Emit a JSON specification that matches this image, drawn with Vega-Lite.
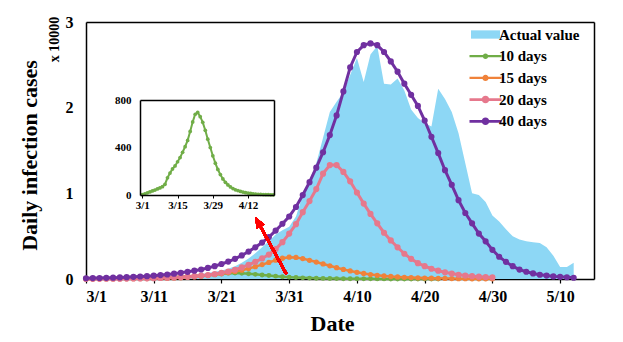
{
  "$schema": "https://vega.github.io/schema/vega-lite/v6.json",
  "width": 508,
  "height": 257,
  "autosize": {"type": "none"},
  "padding": {"left": 86, "top": 22, "right": 29, "bottom": 63},
  "background": "white",
  "config": {
    "view": {"stroke": null},
    "font": "Liberation Serif",
    "axis": {"labelFont": "Liberation Serif", "titleFont": "Liberation Serif", "labelFontWeight": "bold", "titleFontWeight": "bold", "labelColor": "black", "titleColor": "black", "grid": false, "domainColor": "black", "tickColor": "black", "domainWidth": 1.5},
    "legend": {"labelFont": "Liberation Serif", "labelFontWeight": "bold", "labelColor": "black"}
  },
  "data": {"values": [
    {"date": "2020-03-01", "actual": 20, "d10": 3, "d15": 10, "d20": 15, "d40": 90},
    {"date": "2020-03-02", "actual": 25, "d10": 10, "d15": 12, "d20": 18, "d40": 105},
    {"date": "2020-03-03", "actual": 30, "d10": 18, "d15": 15, "d20": 22, "d40": 120},
    {"date": "2020-03-04", "actual": 40, "d10": 26, "d15": 18, "d20": 27, "d40": 140},
    {"date": "2020-03-05", "actual": 50, "d10": 34, "d15": 22, "d20": 32, "d40": 160},
    {"date": "2020-03-06", "actual": 60, "d10": 42, "d15": 27, "d20": 38, "d40": 185},
    {"date": "2020-03-07", "actual": 75, "d10": 51, "d15": 33, "d20": 46, "d40": 215},
    {"date": "2020-03-08", "actual": 90, "d10": 60, "d15": 40, "d20": 55, "d40": 250},
    {"date": "2020-03-09", "actual": 110, "d10": 70, "d15": 48, "d20": 67, "d40": 290},
    {"date": "2020-03-10", "actual": 130, "d10": 90, "d15": 58, "d20": 82, "d40": 335},
    {"date": "2020-03-11", "actual": 160, "d10": 145, "d15": 70, "d20": 100, "d40": 390},
    {"date": "2020-03-12", "actual": 190, "d10": 185, "d15": 84, "d20": 125, "d40": 455},
    {"date": "2020-03-13", "actual": 230, "d10": 220, "d15": 100, "d20": 150, "d40": 530},
    {"date": "2020-03-14", "actual": 280, "d10": 245, "d15": 122, "d20": 185, "d40": 620},
    {"date": "2020-03-15", "actual": 340, "d10": 280, "d15": 150, "d20": 225, "d40": 720},
    {"date": "2020-03-16", "actual": 400, "d10": 315, "d15": 200, "d20": 275, "d40": 840},
    {"date": "2020-03-17", "actual": 480, "d10": 360, "d15": 260, "d20": 330, "d40": 970},
    {"date": "2020-03-18", "actual": 580, "d10": 407, "d15": 330, "d20": 395, "d40": 1110},
    {"date": "2020-03-19", "actual": 700, "d10": 460, "d15": 410, "d20": 470, "d40": 1290},
    {"date": "2020-03-20", "actual": 850, "d10": 535, "d15": 500, "d20": 580, "d40": 1500},
    {"date": "2020-03-21", "actual": 1000, "d10": 615, "d15": 610, "d20": 720, "d40": 1750},
    {"date": "2020-03-22", "actual": 1200, "d10": 680, "d15": 740, "d20": 880, "d40": 2030},
    {"date": "2020-03-23", "actual": 1500, "d10": 695, "d15": 880, "d20": 1080, "d40": 2350},
    {"date": "2020-03-24", "actual": 1900, "d10": 660, "d15": 1030, "d20": 1350, "d40": 2750},
    {"date": "2020-03-25", "actual": 2400, "d10": 612, "d15": 1220, "d20": 1650, "d40": 3200},
    {"date": "2020-03-26", "actual": 3000, "d10": 545, "d15": 1440, "d20": 2000, "d40": 3700},
    {"date": "2020-03-27", "actual": 3700, "d10": 470, "d15": 1680, "d20": 2400, "d40": 4250},
    {"date": "2020-03-28", "actual": 4400, "d10": 400, "d15": 1930, "d20": 2850, "d40": 4900},
    {"date": "2020-03-29", "actual": 5200, "d10": 330, "d15": 2200, "d20": 3500, "d40": 5650},
    {"date": "2020-03-30", "actual": 5700, "d10": 268, "d15": 2420, "d20": 4300, "d40": 6450},
    {"date": "2020-03-31", "actual": 6100, "d10": 215, "d15": 2550, "d20": 5300, "d40": 7300},
    {"date": "2020-04-01", "actual": 7300, "d10": 172, "d15": 2520, "d20": 6400, "d40": 8400},
    {"date": "2020-04-02", "actual": 9800, "d10": 135, "d15": 2380, "d20": 7800, "d40": 9800},
    {"date": "2020-04-03", "actual": 11500, "d10": 107, "d15": 2180, "d20": 9100, "d40": 11300},
    {"date": "2020-04-04", "actual": 13500, "d10": 85, "d15": 1980, "d20": 10500, "d40": 13000},
    {"date": "2020-04-05", "actual": 16500, "d10": 68, "d15": 1760, "d20": 12300, "d40": 14800},
    {"date": "2020-04-06", "actual": 19500, "d10": 54, "d15": 1540, "d20": 13300, "d40": 16800},
    {"date": "2020-04-07", "actual": 20700, "d10": 44, "d15": 1320, "d20": 13300, "d40": 19100},
    {"date": "2020-04-08", "actual": 21800, "d10": 37, "d15": 1120, "d20": 12500, "d40": 21900},
    {"date": "2020-04-09", "actual": 23800, "d10": 30, "d15": 940, "d20": 11400, "d40": 24700},
    {"date": "2020-04-10", "actual": 25800, "d10": 25, "d15": 780, "d20": 10100, "d40": 26500},
    {"date": "2020-04-11", "actual": 23000, "d10": 20, "d15": 640, "d20": 8800, "d40": 27300},
    {"date": "2020-04-12", "actual": 26200, "d10": 16, "d15": 520, "d20": 7600, "d40": 27500},
    {"date": "2020-04-13", "actual": 27200, "d10": 13, "d15": 430, "d20": 6500, "d40": 27300},
    {"date": "2020-04-14", "actual": 22800, "d10": 10, "d15": 350, "d20": 5400, "d40": 26500},
    {"date": "2020-04-15", "actual": 22700, "d10": 8, "d15": 290, "d20": 4500, "d40": 25400},
    {"date": "2020-04-16", "actual": 23400, "d10": 6, "d15": 240, "d20": 3700, "d40": 24200},
    {"date": "2020-04-17", "actual": 22000, "d10": 5, "d15": 200, "d20": 2950, "d40": 22800},
    {"date": "2020-04-18", "actual": 19800, "d10": 4, "d15": 165, "d20": 2350, "d40": 21500},
    {"date": "2020-04-19", "actual": 18800, "d10": 3, "d15": 135, "d20": 1850, "d40": 20200},
    {"date": "2020-04-20", "actual": 18200, "d10": 3, "d15": 112, "d20": 1500, "d40": 18500},
    {"date": "2020-04-21", "actual": 17800, "d10": 2, "d15": 92, "d20": 1200, "d40": 16600},
    {"date": "2020-04-22", "actual": 22200, "d10": 2, "d15": 76, "d20": 970, "d40": 14700},
    {"date": "2020-04-23", "actual": 21000, "d10": null, "d15": 63, "d20": 780, "d40": 12700},
    {"date": "2020-04-24", "actual": 19500, "d10": null, "d15": 52, "d20": 630, "d40": 11000},
    {"date": "2020-04-25", "actual": 17000, "d10": null, "d15": 43, "d20": 500, "d40": 9200},
    {"date": "2020-04-26", "actual": 13500, "d10": null, "d15": 36, "d20": 400, "d40": 7700},
    {"date": "2020-04-27", "actual": 10000, "d10": null, "d15": 30, "d20": 330, "d40": 6500},
    {"date": "2020-04-28", "actual": 9800, "d10": null, "d15": 25, "d20": 270, "d40": 5300},
    {"date": "2020-04-29", "actual": 9000, "d10": null, "d15": 21, "d20": 220, "d40": 4400},
    {"date": "2020-04-30", "actual": 7400, "d10": null, "d15": 18, "d20": 180, "d40": 3400},
    {"date": "2020-05-01", "actual": 6700, "d10": null, "d15": null, "d20": null, "d40": 2600},
    {"date": "2020-05-02", "actual": 5800, "d10": null, "d15": null, "d20": null, "d40": 2000},
    {"date": "2020-05-03", "actual": 5000, "d10": null, "d15": null, "d20": null, "d40": 1500},
    {"date": "2020-05-04", "actual": 4600, "d10": null, "d15": null, "d20": null, "d40": 1100},
    {"date": "2020-05-05", "actual": 4400, "d10": null, "d15": null, "d20": null, "d40": 850},
    {"date": "2020-05-06", "actual": 4300, "d10": null, "d15": null, "d20": null, "d40": 650},
    {"date": "2020-05-07", "actual": 4200, "d10": null, "d15": null, "d20": null, "d40": 500},
    {"date": "2020-05-08", "actual": 3700, "d10": null, "d15": null, "d20": null, "d40": 400},
    {"date": "2020-05-09", "actual": 2700, "d10": null, "d15": null, "d20": null, "d40": 300},
    {"date": "2020-05-10", "actual": 1400, "d10": null, "d15": null, "d20": null, "d40": 250},
    {"date": "2020-05-11", "actual": 1400, "d10": null, "d15": null, "d20": null, "d40": 200},
    {"date": "2020-05-12", "actual": 1900, "d10": null, "d15": null, "d20": null, "d40": 150}
  ]},
  "layer": [
    {
      "encoding": {
        "x": {
          "field": "date", "type": "temporal",
          "scale": {"type": "utc", "domain": [1583020800000, 1589500800000]},
          "axis": {
            "title": "Date", "format": "%-m/%-d",
            "values": [1583020800000, 1583884800000, 1584748800000, 1585612800000, 1586476800000, 1587340800000, 1588204800000, 1589068800000],
            "labelFontSize": 16, "titleFontSize": 22, "tickSize": 4, "tickWidth": 1.2, "labelPadding": 5, "domain": true,
            "titleX": 246, "titleY": 51, "titleBaseline": "alphabetic", "titleAlign": "center"
          }
        }
      },
      "layer": [
        {
          "mark": {"type": "area", "color": "#8DD7F5", "opacity": 1},
          "encoding": {
            "y": {
              "field": "actual", "type": "quantitative",
              "scale": {"domain": [0, 30000]},
              "axis": {
                "title": "Daily infection cases", "values": [0, 10000, 20000, 30000], "labelExpr": "datum.value / 10000",
                "labelFontSize": 16, "titleFontSize": 22, "ticks": false, "labelPadding": 13, "domain": true,
                "titleX": -50, "titleY": 133, "titleAngle": 270, "titleBaseline": "alphabetic", "titleAlign": "center"
              }
            }
          }
        },
        {
          "mark": {"type": "line", "color": "#70AD47", "strokeWidth": 2.5, "point": {"filled": true, "size": 24, "color": "#70AD47", "opacity": 1}},
          "encoding": {"y": {"field": "d10", "type": "quantitative"}}
        },
        {
          "mark": {"type": "line", "color": "#F0823A", "strokeWidth": 2.5, "point": {"filled": true, "size": 28, "color": "#F0823A", "opacity": 1}},
          "encoding": {"y": {"field": "d15", "type": "quantitative"}}
        },
        {
          "mark": {"type": "line", "color": "#E6788C", "strokeWidth": 3, "point": {"filled": true, "size": 38, "color": "#E6788C", "opacity": 1}},
          "encoding": {"y": {"field": "d20", "type": "quantitative"}}
        },
        {
          "mark": {"type": "line", "color": "#7030A0", "strokeWidth": 3, "point": {"filled": true, "size": 38, "color": "#7030A0", "opacity": 1}},
          "encoding": {"y": {"field": "d40", "type": "quantitative"}}
        },
        {
          "mark": {"type": "rule", "color": "#FF0000", "strokeWidth": 2.5},
          "encoding": {
            "x": {"datum": 1585576800000, "type": "temporal"},
            "y": {"datum": 580, "type": "quantitative"},
            "x2": {"datum": 1585213200000},
            "y2": {"datum": 6680}
          }
        },
        {
          "mark": {"type": "point", "shape": "M0,-1L0.8,1L-0.8,1Z", "filled": true, "color": "#FF0000", "opacity": 1, "size": 121, "angle": 331.5, "strokeWidth": 0},
          "encoding": {
            "x": {"datum": 1585213200000, "type": "temporal"},
            "y": {"datum": 6680, "type": "quantitative"}
          }
        },
        {
          "transform": [{"filter": "false"}],
          "mark": {"type": "point", "filled": true, "opacity": 1, "strokeWidth": 0},
          "encoding": {
            "color": {
              "field": "series", "type": "nominal",
              "scale": {"domain": ["Actual value", "10 days", "15 days", "20 days", "40 days"], "range": ["#8DD7F5", "#70AD47", "#F0823A", "#E6788C", "#7030A0"]},
              "legend": {"title": null, "orient": "none", "legendX": 392, "legendY": 5, "padding": 0, "symbolSize": 100, "labelFontSize": 15, "labelOffset": 6, "rowPadding": 5.7, "symbolStrokeWidth": 0, "symbolOpacity": 1}
            },
            "shape": {
              "field": "series", "type": "nominal",
              "scale": {"domain": ["Actual value", "10 days", "15 days", "20 days", "40 days"], "range": [
                "M-2.9,-0.83L2.9,-0.83L2.9,0.83L-2.9,0.83Z",
                "M-3.2,-0.22L3.2,-0.22L3.2,0.22L-3.2,0.22ZM-0.55,0A0.55,0.55,0,1,1,0.55,0A0.55,0.55,0,1,1,-0.55,0Z",
                "M-3.2,-0.24L3.2,-0.24L3.2,0.24L-3.2,0.24ZM-0.62,0A0.62,0.62,0,1,1,0.62,0A0.62,0.62,0,1,1,-0.62,0Z",
                "M-3.2,-0.28L3.2,-0.28L3.2,0.28L-3.2,0.28ZM-0.75,0A0.75,0.75,0,1,1,0.75,0A0.75,0.75,0,1,1,-0.75,0Z",
                "M-3.2,-0.28L3.2,-0.28L3.2,0.28L-3.2,0.28ZM-0.75,0A0.75,0.75,0,1,1,0.75,0A0.75,0.75,0,1,1,-0.75,0Z"
              ]},
              "legend": {"title": null, "orient": "none", "legendX": 392, "legendY": 5, "padding": 0, "symbolSize": 100, "labelFontSize": 15, "labelOffset": 6, "rowPadding": 5.7, "symbolStrokeWidth": 0, "symbolOpacity": 1}
            }
          }
        }
      ]
    },
    {
      "transform": [{"filter": "false"}],
      "mark": "point",
      "encoding": {
        "x": {"field": "date", "type": "temporal", "scale": {"type": "utc", "domain": [1583020800000, 1589500800000]}, "axis": {"orient": "top", "labels": false, "ticks": false, "title": null}},
        "y": {"field": "actual", "type": "quantitative", "scale": {"domain": [0, 30000]}, "axis": {"orient": "right", "labels": false, "ticks": false, "title": null}}
      }
    },
    {
      "transform": [{"filter": "false"}],
      "mark": "point",
      "encoding": {
        "y": {"field": "actual", "type": "quantitative", "scale": {"domain": [0, 30000]}, "axis": {"orient": "left", "labels": false, "ticks": false, "domain": false, "title": "x 10000", "titleFontSize": 14, "titleX": -32, "titleY": 17, "titleAngle": 270, "titleAlign": "center", "titleBaseline": "middle"}}
      }
    },
    {
      "encoding": {
        "x": {
          "field": "date", "type": "temporal",
          "scale": {"type": "utc", "domain": [1582941600000, 1587538800000], "range": [54, 188]},
          "axis": {
            "orient": "bottom", "offset": -84, "title": null, "format": "%-m/%-d",
            "values": [1583020800000, 1584230400000, 1585440000000, 1586649600000],
            "labelFontSize": 11, "tickSize": 3, "labelPadding": 1, "domain": true, "zindex": 1
          }
        },
        "y": {
          "field": "d10", "type": "quantitative",
          "scale": {"domain": [0, 800], "range": [173, 78]},
          "axis": {"orient": "left", "offset": -54, "title": null, "values": [0, 400, 800], "labelFontSize": 11, "ticks": false, "labelPadding": 9, "domain": true, "zindex": 1}
        }
      },
      "mark": {"type": "line", "color": "#70AD47", "strokeWidth": 2, "point": {"filled": true, "size": 14, "color": "#70AD47", "opacity": 1}}
    },
    {
      "transform": [{"filter": "false"}],
      "mark": "point",
      "encoding": {
        "x": {"field": "date", "type": "temporal", "scale": {"type": "utc", "domain": [1582941600000, 1587538800000], "range": [54, 188]}, "axis": {"orient": "top", "offset": -78, "labels": false, "ticks": false, "title": null, "zindex": 1}},
        "y": {"field": "d10", "type": "quantitative", "scale": {"domain": [0, 800], "range": [173, 78]}, "axis": {"orient": "right", "offset": -320, "labels": false, "ticks": false, "title": null, "zindex": 1}}
      }
    }
  ],
  "resolve": {"scale": {"x": "independent", "y": "independent"}}
}
